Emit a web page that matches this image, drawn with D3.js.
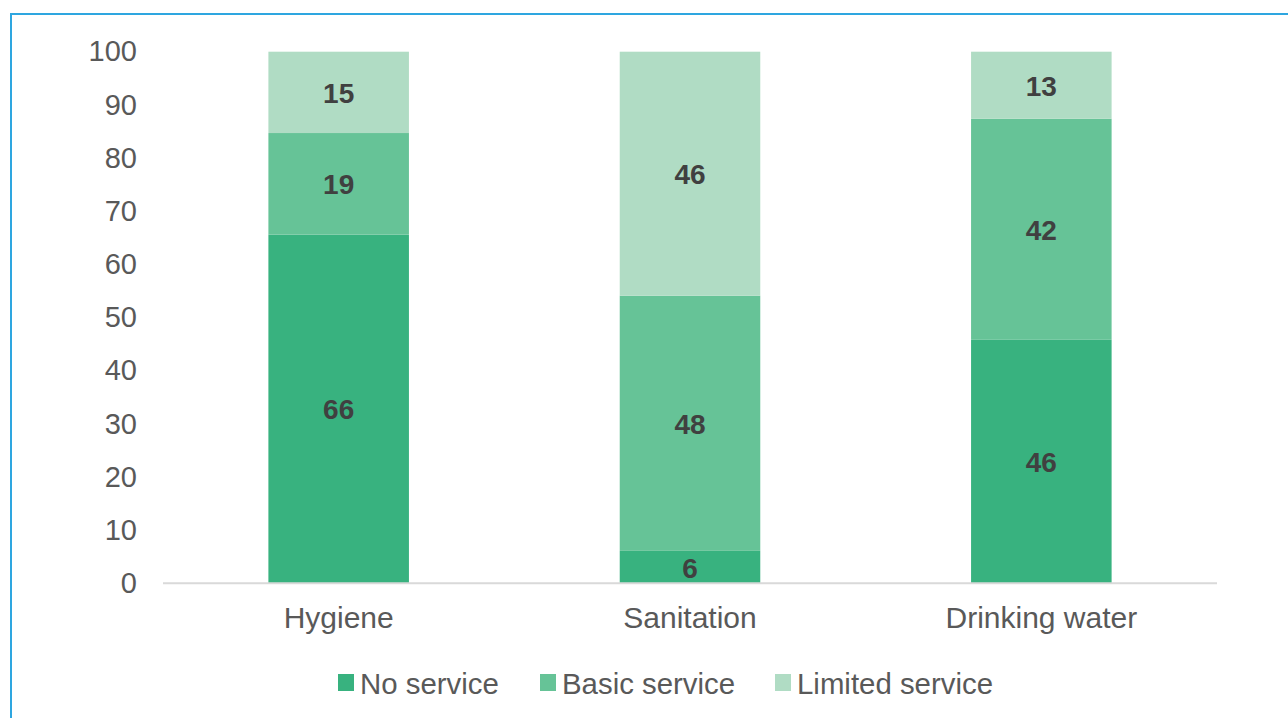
<!DOCTYPE html>
<html><head><meta charset="utf-8">
<script src="https://cdn.jsdelivr.net/npm/d3@7"></script>
<style>body{margin:0;background:#fff}svg{display:block}text{font-family:Arial,"Liberation Sans",sans-serif}</style>
</head><body><svg id="c" width="1288" height="718"></svg>
<script>
const categories = ["Hygiene", "Sanitation", "Drinking water"];
const seriesNames = ["No service", "Basic service", "Limited service"];
const noService = [65.6, 6.1, 45.8];
const basicService = [19.1, 48.0, 41.6];
const limitedService = [15.3, 45.9, 12.6];
const yTicks = [0,10,20,30,40,50,60,70,80,90,100];
const colors = ["#38b27f", "#66c397", "#b0dcc4"];

const svg = d3.select("#c");
svg.append("rect").attr("x",11).attr("y",14).attr("width",1400).attr("height",900)
  .attr("fill","none").attr("stroke","#2ea6e0").attr("stroke-width",2);

const x = d3.scaleBand().domain(categories).range([163,1217]).padding(0);
const y = d3.scaleLinear().domain([0,100]).range([583.3,51.7]);

const rows = categories.map((c,i)=>({cat:c, "No service":noService[i], "Basic service":basicService[i], "Limited service":limitedService[i]}));
const stack = d3.stack().keys(seriesNames)(rows);
const barW = x.bandwidth()*0.4;

stack.forEach((layer,li)=>{
  const g = svg.append("g");
  layer.forEach((d,i)=>{
    const bx = x(categories[i]) + x.bandwidth()/2 - barW/2;
    g.append("rect").attr("x",bx).attr("width",barW)
      .attr("y",y(d[1])).attr("height",y(d[0])-y(d[1])).attr("fill",colors[li]);
    g.append("text").attr("x",x(categories[i])+x.bandwidth()/2).attr("y",(y(d[0])+y(d[1]))/2+1)
      .attr("text-anchor","middle").attr("dominant-baseline","central")
      .attr("font-size",28).attr("font-weight","bold").attr("fill","#404040")
      .text(d3.format(".0f")(d[1]-d[0]));
  });
});

// axis line
svg.append("line").attr("x1",163).attr("x2",1217).attr("y1",y(0)).attr("y2",y(0))
  .attr("stroke","#d9d9d9").attr("stroke-width",2);

// y tick labels
const yAxis = svg.append("g").attr("transform","translate(137,0)")
  .call(d3.axisLeft(y).tickValues(yTicks).tickSize(0).tickPadding(0));
yAxis.select(".domain").remove();
yAxis.selectAll("text").attr("font-size",29).attr("fill","#595959").attr("font-family","Arial,'Liberation Sans',sans-serif");

// x labels
const xAxis = svg.append("g").attr("transform",`translate(0,${y(0)})`)
  .call(d3.axisBottom(x).tickSize(0).tickPadding(23));
xAxis.select(".domain").remove();
xAxis.selectAll("text").attr("font-size",30).attr("fill","#595959").attr("font-family","Arial,'Liberation Sans',sans-serif");

// legend
const legX = [338, 540, 775];
seriesNames.forEach((s,i)=>{
  svg.append("rect").attr("x",legX[i]).attr("y",674).attr("width",16).attr("height",17).attr("fill",colors[i]);
  svg.append("text").attr("x",legX[i]+22).attr("y",683).attr("dominant-baseline","central")
    .attr("font-size",29.4).attr("fill","#595959").text(s);
});
</script></body></html>
